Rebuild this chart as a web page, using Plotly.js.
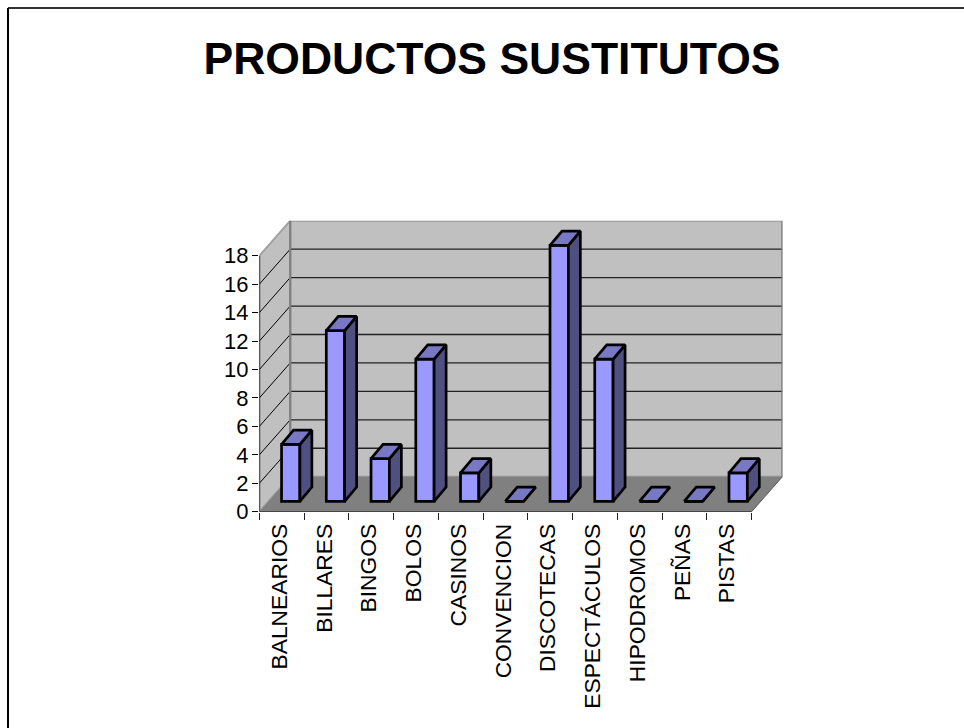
<!DOCTYPE html>
<html>
<head>
<meta charset="utf-8">
<script src="https://cdn.plot.ly/plotly-3.0.1.min.js"></script>
<style>
html, body { margin: 0; padding: 0; background: #fff; }
#chart { width: 964px; height: 728px; }
</style>
</head>
<body>
<div id="chart"></div>
<script>
// Chart content
const categories = ["BALNEARIOS", "BILLARES", "BINGOS", "BOLOS", "CASINOS", "CONVENCION",
  "DISCOTECAS", "ESPECTÁCULOS", "HIPODROMOS", "PEÑAS", "PISTAS"];
const counts = [4, 12, 3, 10, 2, 0, 18, 10, 0, 0, 2];
const yTicks = [0, 2, 4, 6, 8, 10, 12, 14, 16, 18];
const titleText = "PRODUCTOS SUSTITUTOS";

// Colours of the faux 3D box
const wallColor = "#c0c0c0";
const floorColor = "#808080";
const frontColor = "#9999ff";
const sideColor = "#4f4f80";
const capColor = "#7878c4";

// Oblique projection, in axis units
const W = 964, H = 728;
const plotLeft = 259.4, plotRight = 782.4, plotBottom = 511.7, plotTop = 220.7;
const nCat = categories.length, yMax = 18;
const depthY = (plotBottom - plotTop) / (256 / yMax) - yMax;   // wall depth measured on the y axis
const depthX = 0.689;                                          // wall depth measured on the x axis
const barWidth = 0.41, barCentre = 0.70, barBase = 0.73;
const barDepthX = 0.268, barDepthY = 1.0;
const edgeWidth = 2.7;

const centres = categories.map((_, i) => i + barCentre);
const labelPos = categories.map((_, i) => i + 0.45);
const boundaries = Array.from({ length: nCat + 1 }, (_, i) => i);

// Side and top faces of each bar, as closed polygons separated by gaps
const sideX = [], sideY = [], capX = [], capY = [];
counts.forEach((v, i) => {
  const xl = centres[i] - barWidth / 2, xr = centres[i] + barWidth / 2, t = barBase + v;
  sideX.push(xr, xr + barDepthX, xr + barDepthX, xr, xr, null);
  sideY.push(barBase, barBase + barDepthY, t + barDepthY, t, barBase, null);
  capX.push(xl, xr, xr + barDepthX, xl + barDepthX, xl, null);
  capY.push(t, t, t + barDepthY, t + barDepthY, t, null);
});

const poly = pts => "M" + pts.map(p => p.join(",")).join("L") + "Z";
const shapes = [
  // side wall, back wall, floor
  { type: "path", path: poly([[0, 0], [depthX, depthY], [depthX, yMax + depthY], [0, yMax]]),
    fillcolor: wallColor, line: { color: "#a0a0a0", width: 2 }, layer: "below" },
  { type: "path", path: poly([[depthX, depthY], [nCat + depthX, depthY], [nCat + depthX, yMax + depthY], [depthX, yMax + depthY]]),
    fillcolor: wallColor, line: { color: "#999", width: 2 }, layer: "below" },
  { type: "path", path: poly([[0, 0], [nCat, 0], [nCat + depthX, depthY], [depthX, depthY]]),
    fillcolor: floorColor, line: { width: 0 }, layer: "below" }
];
// Gridlines running along both walls
yTicks.filter(v => v > 0 && v < yMax).forEach(v => {
  shapes.push({ type: "line", x0: 0, y0: v, x1: depthX, y1: v + depthY,
    line: { color: "#000", width: 1 }, layer: "below" });
  shapes.push({ type: "line", x0: depthX, y0: v + depthY, x1: nCat + depthX, y1: v + depthY,
    line: { color: "#222", width: 1.3 }, layer: "below" });
});
shapes.push(
  // corner post, wall edge
  { type: "line", x0: depthX, y0: depthY, x1: depthX, y1: yMax + depthY, line: { color: floorColor, width: 2.2 }, layer: "below" },
  { type: "line", x0: nCat + depthX, y0: depthY, x1: nCat + depthX, y1: yMax + depthY, line: { color: floorColor, width: 2.2 }, layer: "below" },
  // floor edge towards the right wall
  { type: "line", x0: nCat, y0: 0, x1: nCat + depthX, y1: depthY, line: { color: "#555", width: 1 }, layer: "below" },
  // axis lines
  { type: "line", x0: 0, y0: 0, x1: nCat, y1: 0, line: { color: "#222", width: 1.4 } },
  { type: "line", x0: 0, y0: 0, x1: 0, y1: yMax, line: { color: "#111", width: 1.4 } },
  // page frame, open on the right and at the bottom
  { type: "line", xref: "paper", yref: "paper", x0: 8 / W, y0: 1 - 8 / H, x1: 1, y1: 1 - 8 / H, line: { color: "#333", width: 2 } },
  { type: "line", xref: "paper", yref: "paper", x0: 8 / W, y0: 1 - 8 / H, x1: 8 / W, y1: 0, line: { color: "#000", width: 2 } }
);

const traces = [
  { type: "bar", x: centres, y: counts, base: barBase, width: barWidth, hoverinfo: "skip",
    marker: { color: frontColor, line: { color: "#000", width: edgeWidth } } },
  { type: "scatter", mode: "lines", x: sideX, y: sideY, fill: "toself", fillcolor: sideColor,
    hoverinfo: "skip", line: { color: "#000", width: edgeWidth } },
  { type: "scatter", mode: "lines", x: capX, y: capY, fill: "toself", fillcolor: capColor,
    hoverinfo: "skip", line: { color: "#000", width: edgeWidth } }
];

const font = "'Liberation Sans', Arial, sans-serif";
const layout = {
  width: W, height: H, showlegend: false,
  paper_bgcolor: "#fff", plot_bgcolor: "rgba(0,0,0,0)",
  margin: { l: 0, r: 0, t: 0, b: 0 },
  font: { family: font, color: "#000", size: 22 },
  title: { text: "<b>" + titleText + "</b>", x: 492 / W, xanchor: "center", y: 1 - 74 / H, yanchor: "bottom",
    xref: "paper", yref: "paper", pad: { t: 0, b: 0 }, font: { family: font, size: 44.5, color: "#000" } },
  xaxis: {
    domain: [plotLeft / W, plotRight / W], range: [0, nCat + depthX], showgrid: false, zeroline: false,
    showline: false, tickmode: "array", tickvals: labelPos, ticktext: categories, tickangle: -90,
    ticks: "outside", ticklen: 2, tickcolor: "rgba(0,0,0,0)", tickfont: { size: 22.8, family: font },
    minor: { tickmode: "array", tickvals: boundaries, ticks: "outside", ticklen: 7, tickwidth: 1, tickcolor: "#222", showgrid: false }
  },
  yaxis: {
    domain: [1 - plotBottom / H, 1 - plotTop / H], range: [0, yMax + depthY], showgrid: false, zeroline: false,
    showline: false, tickmode: "array", tickvals: yTicks, ticks: "outside", ticklen: 6.5, tickwidth: 1,
    tickcolor: "#000", ticklabelstandoff: -1, tickfont: { size: 22, family: font }
  },
  shapes: shapes
};

Plotly.newPlot("chart", traces, layout, { displayModeBar: false, staticPlot: true });
</script>
</body>
</html>
